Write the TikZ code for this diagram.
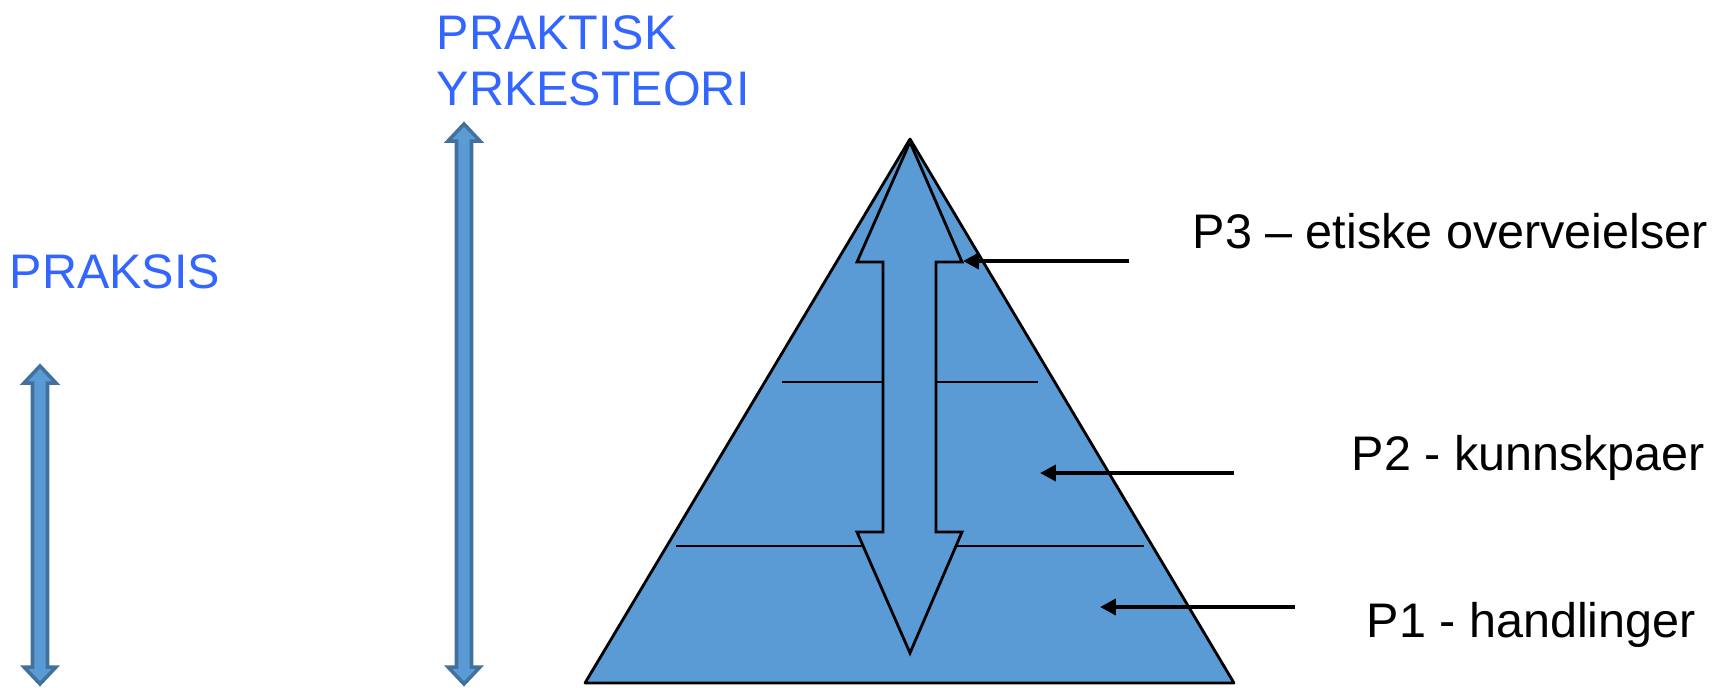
\documentclass[tikz,border=0pt]{standalone}
\usepackage{fontspec}
\setmainfont{Liberation Sans}
\usepackage{tikz}
\usetikzlibrary{arrows.meta}
\definecolor{pyrblue}{HTML}{5B9BD5}
\definecolor{edgeblue}{HTML}{41719C}
\definecolor{titleblue}{HTML}{3366FF}

\begin{document}
\begin{tikzpicture}[x=0.01cm, y=-0.01cm, font=\fontsize{13.8}{15.9}\selectfont,
    blockarrow/.style={fill=pyrblue, draw=edgeblue, line width=1pt, line join=miter},
    pointer/.style={-{Triangle[length=4.5pt, width=4.5pt]}, line width=1.1pt},
    title/.style={text=titleblue, inner sep=0pt, anchor=base west},
    level/.style={inner sep=0pt, anchor=base west}]

\useasboundingbox (0,0) rectangle (1723,687);

% ── LEFT: thin double arrows ──────────────────────────────────────
\foreach \cx/\ytop in {40/366, 464/124} {
    \draw[blockarrow] (\cx,\ytop) -- (\cx+16,\ytop+17) -- (\cx+7.5,\ytop+17)
        -- (\cx+7.5,667) -- (\cx+16,667) -- (\cx,684) -- (\cx-16,667)
        -- (\cx-7.5,667) -- (\cx-7.5,\ytop+17) -- (\cx-16,\ytop+17) -- cycle;
}

\node[title] (praksis) at (9,288) {PRAKSIS};
\node[title, align=left] (teori) at (436,105.5) {PRAKTISK\\YRKESTEORI};

% ── PYRAMID ───────────────────────────────────────────────────────
\draw[fill=pyrblue, line width=0.8pt, line join=round]
    (910,139) -- (1234,683) -- (585,683) -- cycle;

% Level lines
\draw[line width=0.8pt] (782,382) -- (1038,382);
\draw[line width=0.8pt] (676,546) -- (1144,546);

% Big double arrow inside
\draw[fill=pyrblue, line width=0.8pt, line join=miter]
    (910,142) -- (962,262) -- (936,262) -- (936,532) -- (962,532) -- (910,653)
    -- (857,532) -- (883,532) -- (883,262) -- (857,262) -- cycle;

% ── RIGHT: levels ─────────────────────────────────────────────────
\node[level] (p3) at (1192,248) {P3 – etiske overveielser};
\node[level] (p2) at (1351,470) {P2 - kunnskpaer};
\node[level] (p1) at (1366,637) {P1 - handlinger};

\coordinate (p3from) at (1129,261);
\coordinate (p3to) at (963,261);
\coordinate (p2from) at (1234,473);
\coordinate (p2to) at (1040,473);
\coordinate (p1from) at (1295,607);
\coordinate (p1to) at (1100,607);

\draw[pointer] (p3from) -- (p3to);
\draw[pointer] (p2from) -- (p2to);
\draw[pointer] (p1from) -- (p1to);

\end{tikzpicture}
\end{document}
